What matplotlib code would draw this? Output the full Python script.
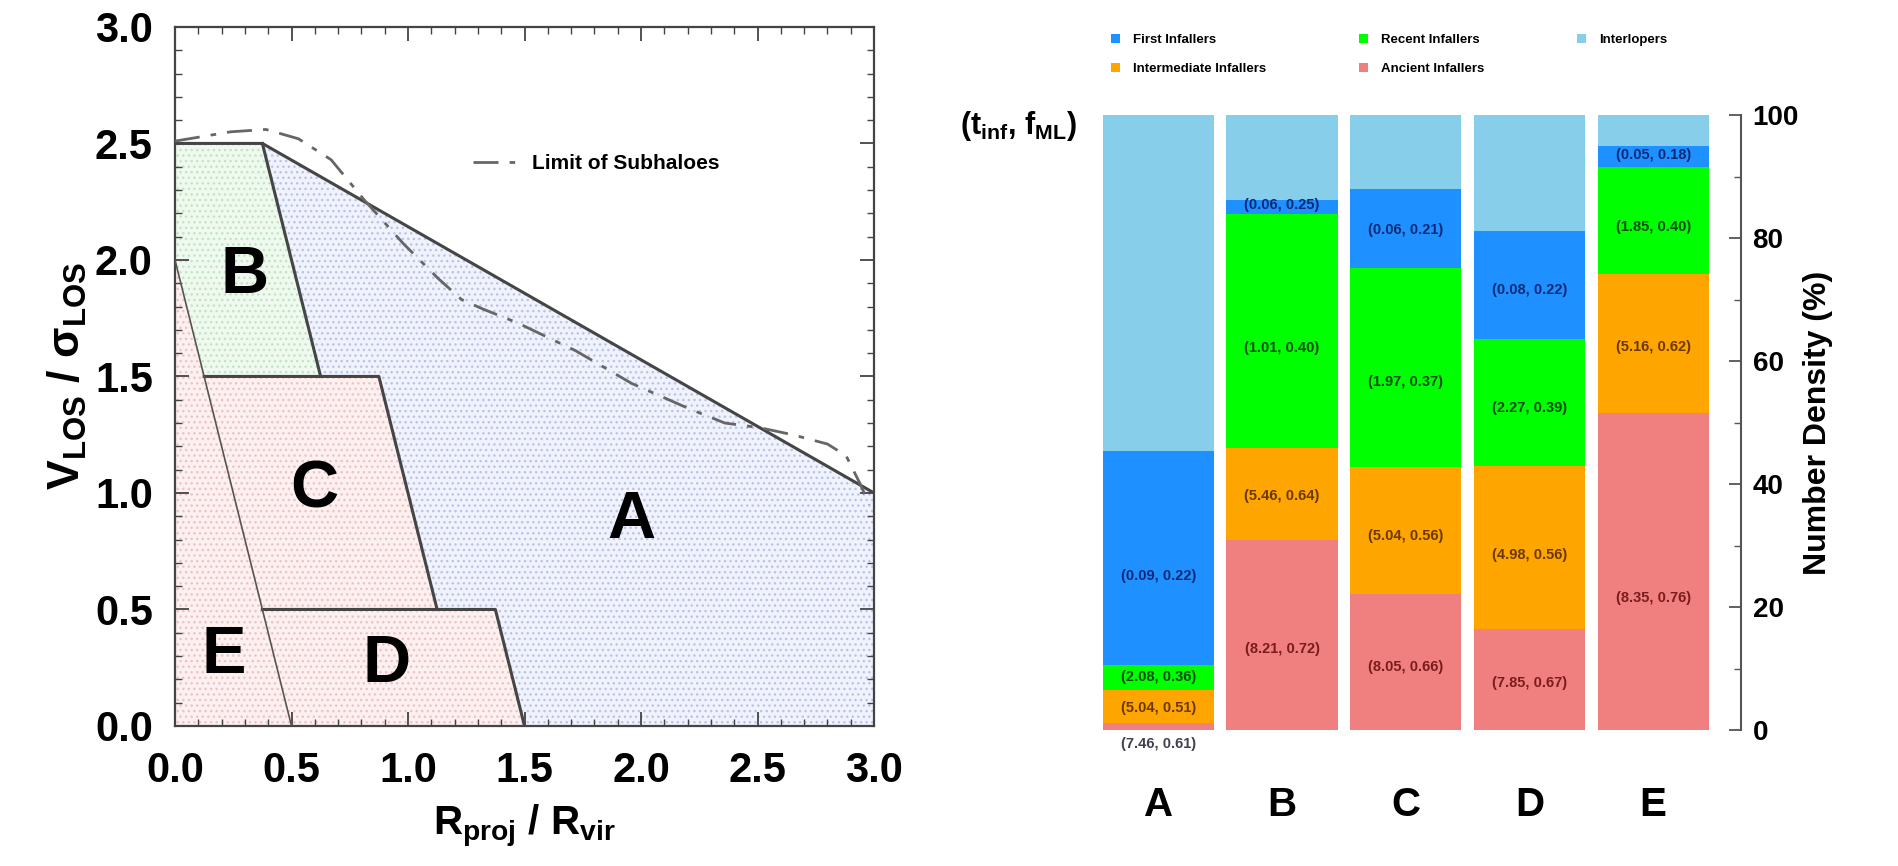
import numpy as np
import matplotlib
matplotlib.use("Agg")
import matplotlib.pyplot as plt
from matplotlib.patches import Polygon, Patch

plt.rcParams["font.family"] = ["Liberation Sans", "DejaVu Sans"]
plt.rcParams["mathtext.fontset"] = "custom"
plt.rcParams["mathtext.rm"] = "Liberation Sans:bold"
plt.rcParams["mathtext.it"] = "Liberation Sans:bold"
plt.rcParams["mathtext.bf"] = "Liberation Sans:bold"
plt.rcParams["mathtext.default"] = "rm"
plt.rcParams["hatch.linewidth"] = 1.0

# ── left panel: phase-space regions (R/Rvir, V/sigma) ──
region_A = [(0.375, 2.5), (3.0, 1.0), (3.0, 0.0), (1.5, 0.0), (1.375, 0.5),
            (1.125, 0.5), (0.875, 1.5), (0.625, 1.5)]
region_B = [(0.0, 2.5), (0.375, 2.5), (0.625, 1.5), (0.125, 1.5), (0.0, 2.0)]
region_C = [(0.125, 1.5), (0.875, 1.5), (1.125, 0.5), (0.375, 0.5)]
region_D = [(0.375, 0.5), (1.375, 0.5), (1.5, 0.0), (0.5, 0.0)]
region_E = [(0.0, 0.0), (0.5, 0.0), (0.0, 2.0)]

# limit of subhaloes (dash-dot curve)
lim_r = [0.0, 0.24, 0.39, 0.53, 0.67, 0.81, 0.98, 1.13, 1.23, 1.32, 1.47,
         1.72, 1.96, 2.21, 2.36, 2.51, 2.65, 2.80, 2.88, 2.94, 2.98]
lim_v = [2.51, 2.55, 2.56, 2.52, 2.43, 2.26, 2.07, 1.92, 1.83, 1.79, 1.73,
         1.61, 1.47, 1.36, 1.30, 1.28, 1.25, 1.21, 1.16, 1.04, 0.95]

# ── right panel: stacked fractions (%) ──
regions = ["A", "B", "C", "D", "E"]
ancient = [1.1, 30.9, 22.1, 16.4, 51.6]
intermediate = [5.4, 14.9, 20.7, 26.5, 22.6]
recent = [4.0, 38.1, 32.4, 20.7, 17.4]
first = [34.9, 2.2, 12.7, 17.6, 3.3]
interlopers = [54.6, 13.9, 12.1, 18.8, 5.1]

# (t_inf, f_ML) labels and their heights (%) in each bar
lab_first = ["(0.09, 0.22)", "(0.06, 0.25)", "(0.06, 0.21)", "(0.08, 0.22)", "(0.05, 0.18)"]
lab_recent = ["(2.08, 0.36)", "(1.01, 0.40)", "(1.97, 0.37)", "(2.27, 0.39)", "(1.85, 0.40)"]
lab_inter = ["(5.04, 0.51)", "(5.46, 0.64)", "(5.04, 0.56)", "(4.98, 0.56)", "(5.16, 0.62)"]
lab_anc = ["(7.46, 0.61)", "(8.21, 0.72)", "(8.05, 0.66)", "(7.85, 0.67)", "(8.35, 0.76)"]
y_first = [25.1, 85.3, 81.3, 71.6, 93.5]
y_recent = [8.7, 62.1, 56.6, 52.4, 81.8]
y_inter = [3.6, 38.1, 31.6, 28.4, 62.2]
y_anc = [-2.2, 13.1, 10.2, 7.6, 21.5]

C_INTERL = "#87ceeb"
C_FIRST = "#1e90ff"
C_RECENT = "#00ff00"
C_INTER = "#ffa500"
C_ANC = "#f08080"

fig = plt.figure(figsize=(18.98, 8.66), dpi=100, facecolor="white")

# ══════════════════════════════════════════════════════════════════
# left panel
# ══════════════════════════════════════════════════════════════════
ax1 = fig.add_axes([0.0922, 0.1617, 0.3683, 0.8072])
fills = [
    (region_A, "#f1f3fc", "#b9c3ea"),
    (region_B, "#f0f9f0", "#bfe6bf"),
    (region_C, "#fcf0f0", "#efc3c3"),
    (region_D, "#fcf0f0", "#efc3c3"),
    (region_E, "#fcf0f0", "#efc3c3"),
]
for pts, fc, hc in fills:
    ax1.add_patch(Polygon(pts, closed=True, facecolor=fc, edgecolor="none", zorder=1))
    ax1.add_patch(Polygon(pts, closed=True, facecolor="none", edgecolor=hc,
                          hatch="...", linewidth=0, zorder=1))

lc = "#454545"
ax1.plot([0.0, 0.375, 3.0], [2.5, 2.5, 1.0], color=lc, lw=2.2, zorder=3)
ax1.plot([0.375, 0.625], [2.5, 1.5], color=lc, lw=2.2, zorder=3)
ax1.plot([0.125, 0.875, 1.125], [1.5, 1.5, 0.5], color=lc, lw=2.2, zorder=3)
ax1.plot([0.375, 1.375, 1.5], [0.5, 0.5, 0.0], color=lc, lw=2.2, zorder=3)
ax1.plot([0.0, 0.5], [2.0, 0.0], color="#555555", lw=1.2, zorder=3)

ax1.plot(lim_r, lim_v, color="#666666", lw=2.0, dashes=(9, 4, 2, 4), zorder=4,
         label="Limit of Subhaloes")
ax1.legend(loc="upper left", bbox_to_anchor=(0.40, 0.845), frameon=False,
           handlelength=2.2, handletextpad=0.6,
           prop={"weight": "bold", "size": 15})

for txt, x, y in [("A", 1.96, 0.88), ("B", 0.30, 1.93), ("C", 0.60, 1.01),
                  ("D", 0.91, 0.26), ("E", 0.21, 0.30)]:
    ax1.text(x, y, txt, fontsize=48, fontweight="bold", ha="center", va="center", zorder=5)

ax1.set_xlim(0, 3)
ax1.set_ylim(0, 3)
ax1.set_xticks(np.arange(0, 3.01, 0.5))
ax1.set_yticks(np.arange(0, 3.01, 0.5))
ax1.set_xticks(np.arange(0, 3.01, 0.1), minor=True)
ax1.set_yticks(np.arange(0, 3.01, 0.1), minor=True)
ax1.xaxis.set_major_formatter(plt.FuncFormatter(lambda v, _: f"{v:.1f}"))
ax1.yaxis.set_major_formatter(plt.FuncFormatter(lambda v, _: f"{v:.1f}"))
ax1.tick_params(which="both", direction="in", top=True, right=True, color="#444444")
ax1.tick_params(which="major", length=10, width=1.3, labelsize=30)
ax1.tick_params(axis="x", which="major", pad=18)
ax1.tick_params(axis="y", which="major", pad=16)
ax1.tick_params(which="minor", length=5, width=1.0)
for lbl in ax1.get_xticklabels() + ax1.get_yticklabels():
    lbl.set_fontweight("bold")
for sp in ax1.spines.values():
    sp.set_color("#444444")
    sp.set_linewidth(1.6)
ax1.set_xlabel(r"R$_{proj}$ / R$_{vir}$", fontsize=29, fontweight="bold", labelpad=9)
ax1.set_ylabel(r"V$_{LOS}$ / $\sigma_{LOS}$", fontsize=32, fontweight="bold", labelpad=4)

# ══════════════════════════════════════════════════════════════════
# right panel
# ══════════════════════════════════════════════════════════════════
ax2 = fig.add_axes([0.5777, 0.1570, 0.3259, 0.7102])
x = np.arange(len(regions))
w = 0.90
layers = [
    (ancient, C_ANC, "Ancient Infallers"),
    (intermediate, C_INTER, "Intermediate Infallers"),
    (recent, C_RECENT, "Recent Infallers"),
    (first, C_FIRST, "First Infallers"),
    (interlopers, C_INTERL, "Interlopers"),
]
bottom = np.zeros(len(regions))
for vals, col, name in layers:
    ax2.bar(x, vals, width=w, bottom=bottom, color=col, edgecolor="none", label=name)
    bottom += np.array(vals)

label_sets = [
    (lab_first, y_first, "#0d2a78"),
    (lab_recent, y_recent, "#0a4a0a"),
    (lab_inter, y_inter, "#6a3800"),
    (lab_anc, y_anc, "#7a1c1c"),
]
for labs, ys, tc in label_sets:
    for i, (t, yy) in enumerate(zip(labs, ys)):
        col = "#404050" if yy < 0 else tc
        ax2.text(x[i], yy, t, ha="center", va="center", fontsize=10.5,
                 fontweight="bold", color=col)

ax2.set_xlim(-0.5, len(regions) - 0.5)
ax2.set_ylim(0, 100)
for s in ["left", "top", "bottom"]:
    ax2.spines[s].set_visible(False)
ax2.spines["right"].set_position(("outward", 19))
ax2.spines["right"].set_color("#555555")
ax2.spines["right"].set_linewidth(1.5)
ax2.yaxis.tick_right()
ax2.yaxis.set_label_position("right")
ax2.set_yticks(np.arange(0, 101, 20))
ax2.set_yticks(np.arange(0, 101, 10), minor=True)
ax2.tick_params(axis="y", which="both", direction="in", color="#555555")
ax2.tick_params(axis="y", which="major", length=9, width=1.3, labelsize=20, pad=8)
ax2.tick_params(axis="y", which="minor", length=5, width=1.0)
for lbl in ax2.get_yticklabels():
    lbl.set_fontweight("bold")
ax2.set_ylabel("Number Density (%)", fontsize=23, fontweight="bold", labelpad=3)
ax2.set_xticks(x)
ax2.set_xticklabels(regions, fontsize=29, fontweight="bold")
ax2.tick_params(axis="x", length=0, pad=40)

fig.text(0.506, 0.855, r"(t$_{inf}$, f$_{ML}$)", fontsize=22, fontweight="bold",
         ha="left", va="center")

handles = [Patch(facecolor=C_FIRST), Patch(facecolor=C_INTER),
           Patch(facecolor=C_RECENT), Patch(facecolor=C_ANC),
           Patch(facecolor=C_INTERL)]
names = ["First Infallers", "Intermediate Infallers", "Recent Infallers",
         "Ancient Infallers", "Interlopers"]
fig.legend(handles, names, ncol=3, loc="upper left", bbox_to_anchor=(0.579, 0.975),
           frameon=False, prop={"size": 9.5, "weight": "bold"},
           handlelength=0.7, handleheight=0.7, handletextpad=1.0,
           columnspacing=7.0, labelspacing=1.3)

plt.savefig("out.png", dpi=100, facecolor="white")
